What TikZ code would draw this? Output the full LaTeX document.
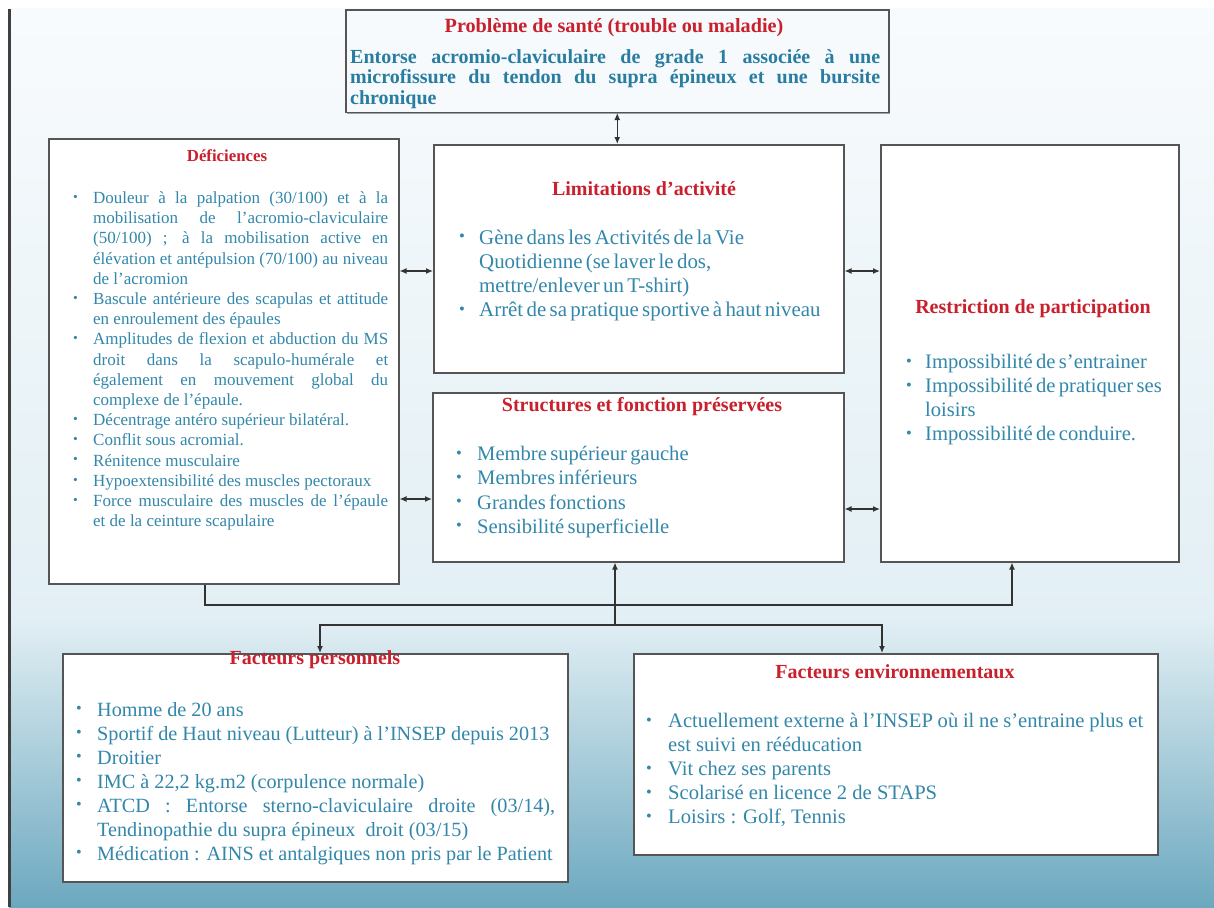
\documentclass[tikz,border=0pt]{standalone}
\usepackage{fontspec}
\setmainfont{Liberation Serif}
\usetikzlibrary{arrows.meta,shadows,calc}
\definecolor{ttlred}{RGB}{200,32,45}
\definecolor{txtblue}{RGB}{50,135,170}
\definecolor{topblue}{RGB}{40,125,160}
\definecolor{boxline}{RGB}{85,85,85}
\definecolor{topfill}{RGB}{246,250,252}
\definecolor{bgtop}{RGB}{248,251,253}
\definecolor{bgmid}{RGB}{226,239,244}
\definecolor{bgbot}{RGB}{108,168,191}
\newlength\bulind
\newcommand\bitem[1]{\par\noindent\hangindent=\bulind\hangafter=1\makebox[\bulind][l]{\rule{0pt}{0.8em}\raisebox{0.12em}{\scalebox{0.8}{\textbullet}}}#1}
\tikzset{
  box/.style={draw=boxline, line width=1.5pt, fill=white, rectangle, inner sep=0pt, anchor=north west,
    drop shadow={shadow xshift=1.5pt, shadow yshift=-1.5pt, fill=black, opacity=0.35}},
  ttl/.style={anchor=base, text=ttlred, inner sep=0pt, font=\bfseries\fontsize{#1}{#1}\selectfont},
  lst/.style n args={5}{anchor=north west, inner sep=0pt, text=txtblue, text width=#1, align=#4,
    execute at begin node={\fontsize{#2}{#3}\selectfont\setlength\bulind{#5}%
      \tolerance=10000\hbadness=10000\parindent=0pt}},
  conn/.style={line width=1.3pt, draw=black!80},
  arr/.style={conn, -{Latex[length=7pt,width=6pt]}},
  dbl/.style={conn, {Latex[length=7pt,width=6pt]}-{Latex[length=7pt,width=6pt]}}
}
\begin{document}
\begin{tikzpicture}[x=1pt,y=-1pt]
\useasboundingbox (0,0) rectangle (1214,907);
% background
\fill[white] (0,0) rectangle (1214,907);
\shade[top color=bgtop, bottom color=bgmid] (9,9) rectangle (1214,620);
\shade[top color=bgmid, bottom color=bgbot] (9,619.5) rectangle (1214,907);
\draw[line width=2.5pt, black!75] (9.5,9) -- (9.5,907);

% boxes
\node[box, fill=topfill, minimum width=543pt, minimum height=102pt] (top) at (345,9.5) {};
\node[box, minimum width=350pt, minimum height=445pt] (def) at (48,138) {};
\node[box, minimum width=410pt, minimum height=228pt] (lim) at (433,144) {};
\node[box, minimum width=298pt, minimum height=417pt] (res) at (880,144) {};
\node[box, minimum width=411pt, minimum height=169pt] (str) at (432,392) {};
\node[box, minimum width=505pt, minimum height=228pt] (fp) at (62,653) {};
\node[box, minimum width=524pt, minimum height=201pt] (fe) at (633,653) {};

% titles
\node[ttl=20.2] (topT) at (614,33) {Problème de santé (trouble ou maladie)};
\node[ttl=16.8] (defT) at (227,161.5) {Déficiences};
\node[ttl=20] (limT) at (644,195.6) {Limitations d’activité};
\node[ttl=20] (resT) at (1033,313.6) {Restriction de participation};
\node[ttl=20] (strT) at (642,411.6) {Structures et fonction préservées};
\node[ttl=20] (fpT) at (315,664.6) {Facteurs personnels};
\node[ttl=20] (feT) at (895,678.6) {Facteurs environnementaux};

% texts
\node[lst={530pt}{20}{20.6}{justify}{0pt}, text=topblue, font=\bfseries] (topB) at (350,47)
 {\rule{0pt}{0.8em}Entorse acromio-claviculaire de grade 1 associée à une\linebreak
  microfissure du tendon du supra épineux et une bursite\linebreak chronique\par};

\node[lst={315pt}{17}{20.2}{justify}{20pt}] (defL) at (73,183)
 {\bitem{Douleur à la palpation (30/100) et à la\linebreak mobilisation de l’acromio-claviculaire\linebreak (50/100) ; à la mobilisation active en\linebreak élévation et antépulsion (70/100) au niveau\linebreak de l’acromion}
  \bitem{Bascule antérieure des scapulas et attitude\linebreak en enroulement des épaules}
  \bitem{Amplitudes de flexion et abduction du MS\linebreak droit dans la scapulo-humérale et\linebreak également en mouvement global du\linebreak complexe de l’épaule.}
  \bitem{Décentrage antéro supérieur bilatéral.}
  \bitem{Conflit sous acromial.}
  \bitem{Rénitence musculaire}
  \bitem{Hypoextensibilité des muscles pectoraux}
  \bitem{Force musculaire des muscles de l’épaule\linebreak et de la ceinture scapulaire}\par};

\node[lst={385pt}{20.9}{24.3}{left}{20pt}] (limL) at (459,219.5)
 {\bitem{Gène dans les Activités de la Vie\linebreak Quotidienne (se laver le dos,\linebreak mettre/enlever un T-shirt)}
  \bitem{Arrêt de sa pratique sportive à haut niveau}\par};

\node[lst={270pt}{20.6}{24}{left}{19pt}] (resL) at (906,344.5)
 {\bitem{Impossibilité de s’entrainer}
  \bitem{Impossibilité de pratiquer ses\linebreak loisirs}
  \bitem{Impossibilité de conduire.}\par};

\node[lst={380pt}{20.6}{24.3}{left}{21pt}] (strL) at (456,436)
 {\bitem{Membre supérieur gauche}
  \bitem{Membres inférieurs}
  \bitem{Grandes fonctions}
  \bitem{Sensibilité superficielle}\par};

\node[lst={479pt}{20.2}{24}{justify}{21pt}] (fpL) at (76,692)
 {\bitem{Homme de 20 ans}
  \bitem{Sportif de Haut niveau (Lutteur) à l’INSEP depuis 2013}
  \bitem{Droitier}
  \bitem{IMC à 22,2 kg.m2 (corpulence normale)}
  \bitem{ATCD : Entorse sterno-claviculaire droite (03/14),\linebreak Tendinopathie du supra épineux~ droit (03/15)}
  \bitem{Médication : AINS et antalgiques non pris par le Patient}\par};

\node[lst={497pt}{20.6}{24}{justify}{22pt}] (feL) at (646,703.5)
 {\bitem{Actuellement externe à l’INSEP où il ne s’entraine plus et\linebreak est suivi en rééducation}
  \bitem{Vit chez ses parents}
  \bitem{Scolarisé en licence 2 de STAPS}
  \bitem{Loisirs : Golf, Tennis}\par};

% connectors
\coordinate (yA) at (0,271);
\coordinate (yB) at (0,499);
\coordinate (yC) at (0,509);
\coordinate (jl) at (205,605);
\coordinate (jr) at (1012,605);
\coordinate (jm) at (615,625);
\coordinate (ja) at (320,625);
\coordinate (jb) at (882,625);

\draw[dbl] (top.south) -- (top.south |- lim.north);
\draw[dbl] (def.east |- yA) -- (lim.west |- yA);
\draw[dbl] (lim.east |- yA) -- (res.west |- yA);
\draw[dbl] (def.east |- yB) -- (str.west |- yB);
\draw[dbl] (str.east |- yC) -- (res.west |- yC);
\draw[arr] (def.south -| jl) -- (jl) -- (jr) -- (res.south -| jr);
\draw[arr] (jm) -- (str.south -| jm);
\draw[arr] (jm) -- (ja) -- (fp.north -| ja);
\draw[arr] (jm) -- (jb) -- (fe.north -| jb);
\end{tikzpicture}
\end{document}
